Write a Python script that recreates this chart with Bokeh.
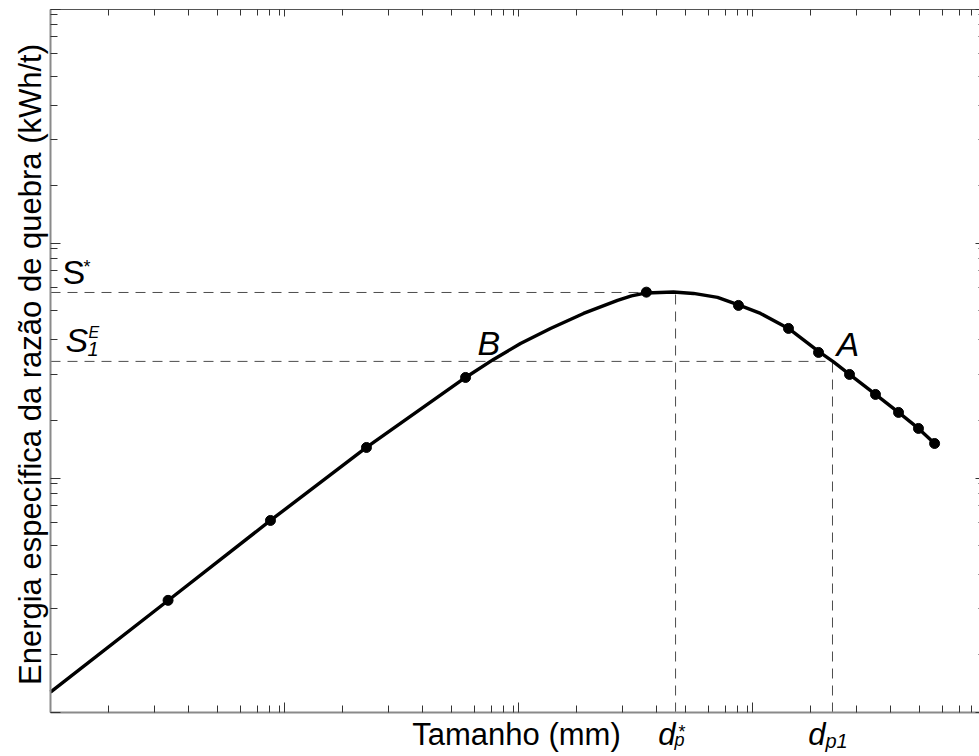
import math
from bokeh.plotting import figure
from bokeh.models import Range1d, FixedTicker, LogAxis, Label
from bokeh.embed import file_html
from bokeh.resources import INLINE

# ---- data ----
# measured points: size (mm) vs specific energy (kWh/t)
pt_size = [0.318, 0.871, 2.24, 5.94, 35.2, 87.1, 142.5, 191.5, 259.8, 335.4, 420.8, 512.0, 600.0]
pt_energy = [0.301, 0.660, 1.352, 2.690, 6.22, 5.46, 4.355, 3.44, 2.771, 2.277, 1.908, 1.630, 1.406]

# fitted curve
curve_size = [0.1, 0.318, 0.871, 2.24, 5.94, 7.82, 10.2, 13.7, 18.96, 26.5, 30.4, 35.2, 45.95,
              55.96, 70.87, 87.1, 108.2, 142.5, 191.5, 221.9, 259.8, 335.4, 420.8, 512.0, 600.0]
curve_energy = [0.1221, 0.3006, 0.660, 1.352, 2.690, 3.211, 3.757, 4.355, 5.046, 5.734, 5.993, 6.172,
                6.233, 6.142, 5.905, 5.485, 5.046, 4.355, 3.473, 3.133, 2.771, 2.277, 1.908, 1.630, 1.406]

S_star = 6.20      # S*
S1_E = 3.15        # S1^E
dp_star = 46.9     # d_p*
dp_1 = 219.7       # d_p1
B_size = 7.82      # point B on S1^E

major_ticks = [0.1, 1, 10, 100, 1000]
minor_frac = [0.248, 0.444, 0.590, 0.714, 0.812, 0.885, 0.936, 0.979]

x_start, y_start, y_end = 0.1, 0.1, 100.0

# ---- layout (pixels) ----
W, H = 979, 756
AX_L, AX_B, AX_T = 50, 712, 9          # axis lines in the canvas
DEC_X = 234.0                          # px per decade, x
DEC_Y = (AX_B - AX_T) / math.log10(y_end / y_start)

x_lo = x_start * 10 ** (-AX_L / DEC_X)
x_hi = x_start * 10 ** ((W - AX_L) / DEC_X)
y_lo = y_start * 10 ** (-(H - AX_B) / DEC_Y)
y_hi = y_end * 10 ** (AX_T / DEC_Y)

FONT = "Liberation Sans"
p = figure(width=W, height=H, x_axis_type="log", y_axis_type="log",
           x_range=Range1d(x_lo, x_hi), y_range=Range1d(y_lo, y_hi),
           output_backend="svg", toolbar_location=None,
           min_border_left=0, min_border_right=0, min_border_top=0, min_border_bottom=0)
p.outline_line_color = None
p.xgrid.visible = False
p.ygrid.visible = False
p.background_fill_color = "white"
p.border_fill_color = "white"

minor_ticks = [b * 10 ** f for b in major_ticks[:-1] for f in minor_frac]
ticker = FixedTicker(ticks=major_ticks, minor_ticks=minor_ticks)


def style_axis(ax, line_color, line_width, line_alpha, maj_in, min_in, loc, bounds):
    ax.ticker = ticker
    ax.fixed_location = loc
    ax.bounds = bounds
    ax.axis_label = None
    ax.major_label_text_font_size = "1px"
    ax.major_label_text_alpha = 0
    ax.major_label_standoff = 0
    ax.axis_line_color = line_color
    ax.axis_line_width = line_width
    ax.axis_line_alpha = line_alpha
    ax.major_tick_in = maj_in
    ax.major_tick_out = 0
    ax.minor_tick_in = min_in
    ax.minor_tick_out = 0
    ax.major_tick_line_color = "#333333"
    ax.minor_tick_line_color = "#333333"


style_axis(p.xaxis[0], "#8a8a8a", 2, 1, 10, 7, y_start, (x_start, x_hi))
style_axis(p.yaxis[0], "#8a8a8a", 2, 1, 10, 7, x_start, (y_start, y_end))
top_ax = LogAxis()
style_axis(top_ax, "#555555", 1, 1, 7, 6, y_end, (x_start, x_hi))
p.add_layout(top_ax, "above")
right_ax = LogAxis()
style_axis(right_ax, "#8a8a8a", 1, 0, 4, 1, x_hi, (y_start, y_end))
p.add_layout(right_ax, "right")

# dashed guide lines
dash = dict(line_color="#4d4d4d", line_width=1, line_dash="10 7")
p.line([x_start, dp_star], [S_star, S_star], **dash)
p.line([dp_star, dp_star], [y_start, S_star], **dash)
p.line([x_start, dp_1], [S1_E, S1_E], **dash)
p.line([dp_1, dp_1], [y_start, S1_E], **dash)

# curve and points
p.line(curve_size, curve_energy, line_color="black", line_width=3.4, line_join="round")
p.scatter(pt_size, pt_energy, size=10, color="black")

BASE_FIX = 0.35  # shift that puts the alphabetic baseline where asked


def lab(text, x, y, xo=0, dy=0, size=34, style="normal", align="left",
        xu="data", yu="data", angle=0.0):
    p.add_layout(Label(x=x, y=y, x_units=xu, y_units=yu, x_offset=xo,
                       y_offset=dy + BASE_FIX * size, text=text, angle=angle,
                       text_font=FONT, text_font_size=f"{size}px", text_font_style=style,
                       text_align=align, text_baseline="alphabetic", text_color="black"))


# axis titles
lab("Tamanho (mm)", 516, 0, dy=H - 745, size=31, align="center", xu="screen", yu="screen")
p.add_layout(Label(x=41 - BASE_FIX * 31, y=H - 364, x_units="screen", y_units="screen",
                   text="Energia específica da razão de quebra (kWh/t)", angle=math.pi / 2,
                   text_font=FONT, text_font_size="31px", text_align="center",
                   text_baseline="alphabetic", text_color="black"))

# S* and S1^E
lab("S", x_start, S_star, xo=12, dy=9, size=34)
lab("*", x_start, S_star, xo=33, dy=19, size=18)
lab("S", x_start, S1_E, xo=15, dy=9, size=34, style="italic")
lab("E", x_start, S1_E, xo=38, dy=23, size=16, style="italic")
lab("1", x_start, S1_E, xo=37, dy=5, size=20, style="italic")
# A and B
lab("B", B_size, S1_E, xo=-16, dy=6, size=34, style="italic")
lab("A", dp_1, S1_E, xo=4, dy=5, size=34, style="italic")
# d_p* and d_p1 below the axis
lab("d", dp_star, y_start, xo=0, dy=-33, size=31, style="italic", align="right")
lab("p", dp_star, y_start, xo=-1, dy=-34, size=18, style="italic")
lab("*", dp_star, y_start, xo=3, dy=-26, size=18)
lab("d", dp_1, y_start, xo=-7, dy=-33, size=31, style="italic", align="right")
lab("p1", dp_1, y_start, xo=-7, dy=-35, size=20, style="italic")

open("out.html", "w").write(file_html(p, INLINE))
